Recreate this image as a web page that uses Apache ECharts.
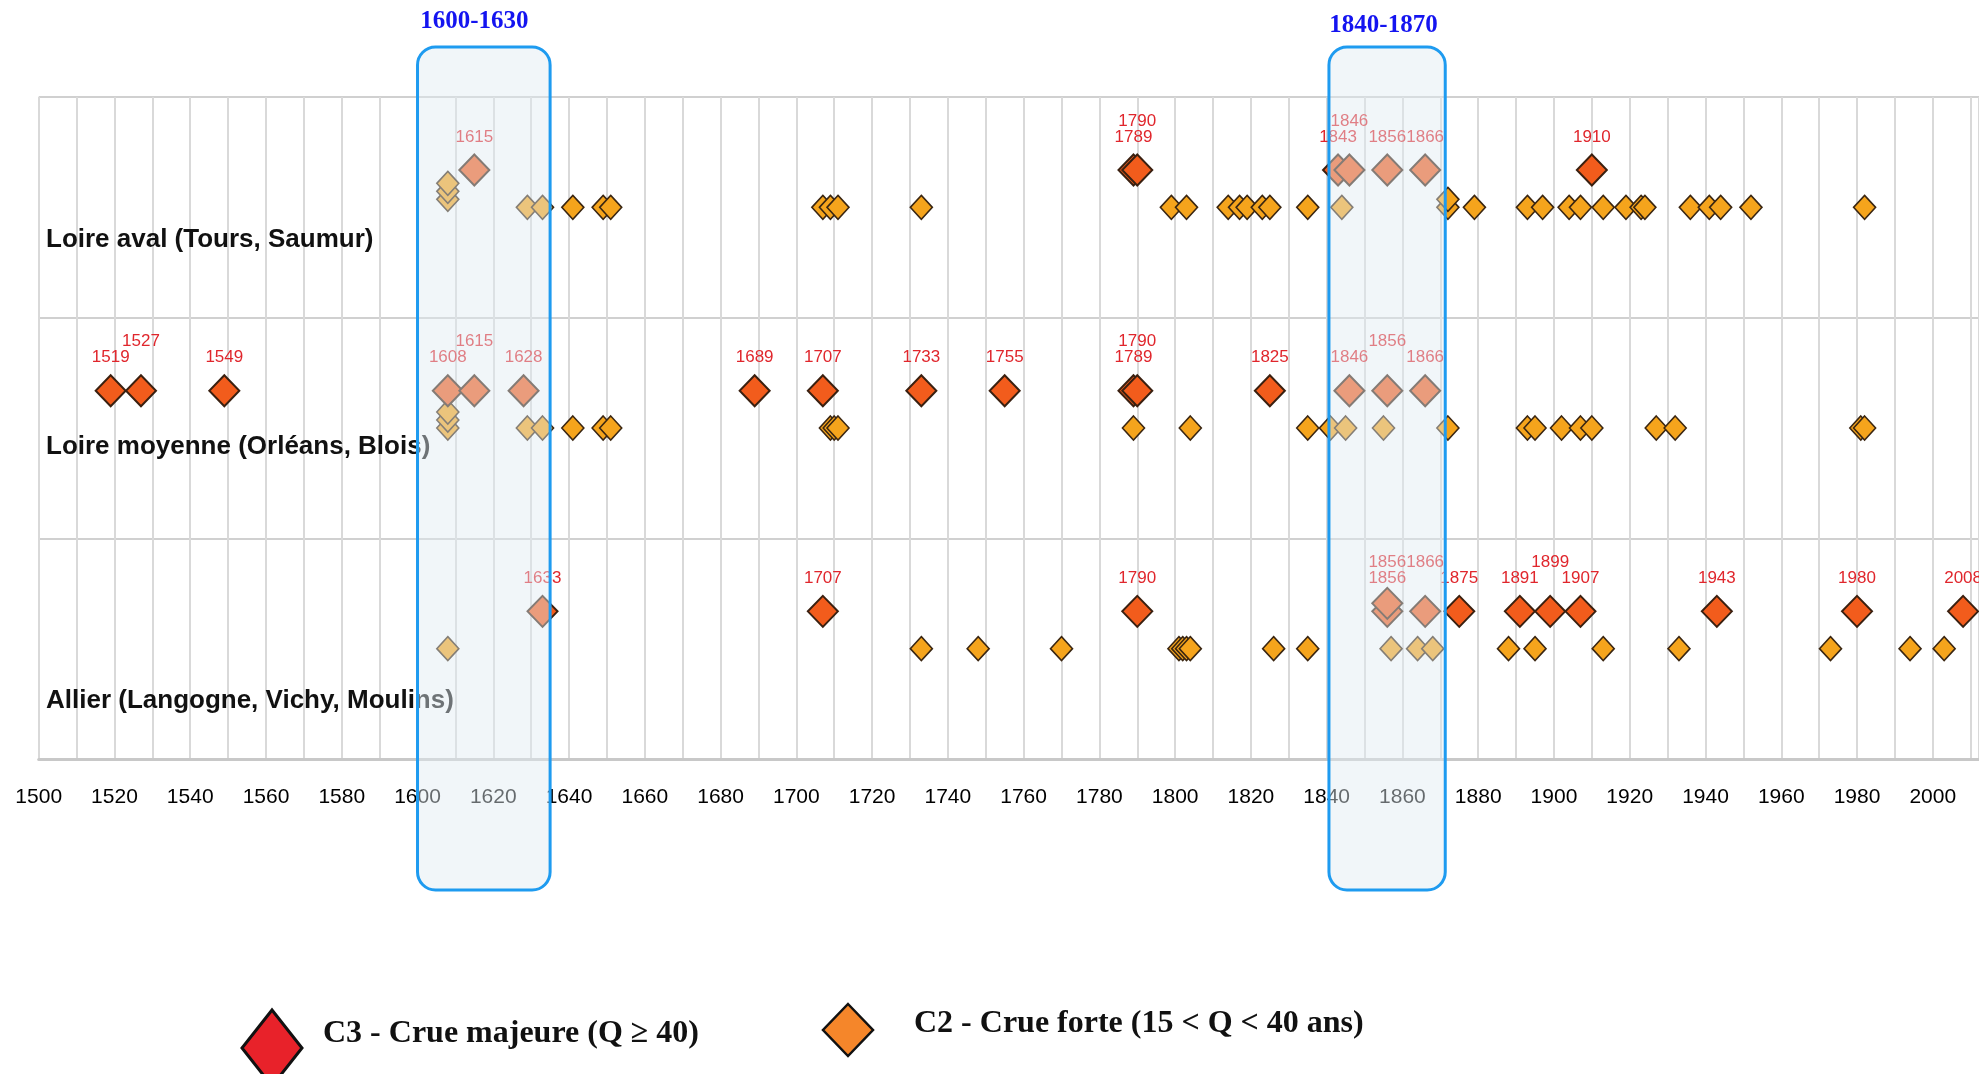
<!DOCTYPE html>
<html><head><meta charset="utf-8">
<script src="https://cdn.jsdelivr.net/npm/echarts@6/dist/echarts.min.js"></script>
<style>html,body{margin:0;padding:0;background:#fff;overflow:hidden}#c{width:1979px;height:1074px}</style>
</head><body><div id="c"></div>
<script>
// ---- data ----
const rowNames = ['Loire aval (Tours, Saumur)', 'Loire moyenne (Orléans, Blois)', 'Allier (Langogne, Vichy, Moulins)'];
const avalC3 = [1615, 1789, 1790, 1843, 1846, 1856, 1866, 1910];
const avalC2 = [1608, 1608, 1608, 1629, 1633, 1641, 1649, 1651, 1707, 1709, 1711, 1733, 1799, 1803, 1814, 1817, 1819, 1823, 1825, 1835, 1844, 1872, 1872, 1879, 1893, 1897, 1904, 1907, 1913, 1919, 1923, 1924, 1936, 1941, 1944, 1952, 1982];
const moyC3 = [1519, 1527, 1549, 1608, 1615, 1628, 1689, 1707, 1733, 1755, 1789, 1790, 1825, 1846, 1856, 1866];
const moyC2 = [1608, 1608, 1608, 1629, 1633, 1641, 1649, 1651, 1709, 1710, 1711, 1789, 1804, 1835, 1841, 1845, 1855, 1872, 1893, 1895, 1902, 1907, 1910, 1927, 1932, 1981, 1982];
const allierC3 = [1633, 1707, 1790, 1856, 1856, 1866, 1875, 1891, 1899, 1907, 1943, 1980, 2008];
const allierC2 = [1608, 1733, 1748, 1770, 1801, 1802, 1803, 1804, 1826, 1835, 1857, 1864, 1868, 1888, 1895, 1913, 1933, 1973, 1994, 2003];
const avalRaised = [1790, 1846];
const moyRaised = [1527, 1615, 1790, 1856];
const allierRaised = [1856, 1866, 1899];
const periodNames = ['1600-1630', '1840-1870'];
const periodCenters = [1615, 1855];
const periodFrom = [1600, 1840.6];
const periodTo = [1635, 1871.3];
const legendNames = ['C3 - Crue majeure (Q \u2265 40)', 'C2 - Crue forte (15 < Q < 40 ans)'];
const xMin = 1500, xMax = 2012.2;

// ---- layout constants ----
const GRID_TOP = 97, GRID_BOTTOM = 315, GRID_LEFT = 38.7;
const BAND_PX = (1074 - GRID_TOP - GRID_BOTTOM) / 3;
const STACK = 8 / BAND_PX;

function buildC3(years, band, raised) {
  const seen = {};
  return years.map((y, i) => {
    const lvl = seen[y] || 0; seen[y] = lvl + 1;
    const up = raised.includes(y) && years.lastIndexOf(y) === i ? 1 : 0;
    return {
      value: [y, 3 - band - 0.331 + lvl * STACK], year: y,
      label: { offset: [0, -33 - 16 * up + lvl * 8] }
    };
  });
}
function buildC2(years, band, extra) {
  const seen = {};
  return years.map(y => {
    const lvl = seen[y] || 0; seen[y] = lvl + 1;
    return { value: [y, 3 - band - 0.5 + (lvl + (extra[y] || 0)) * STACK], year: y };
  });
}
const c3Data = [].concat(buildC3(avalC3, 0, avalRaised), buildC3(moyC3, 1, moyRaised), buildC3(allierC3, 2, allierRaised));
const c2Data = [].concat(buildC2(avalC2, 0, {1608: 1}), buildC2(moyC2, 1, {}), buildC2(allierC2, 2, {}));

const chart = echarts.init(document.getElementById('c'));
chart.setOption({
  animation: false,
  backgroundColor: '#fff',
  grid: { left: GRID_LEFT, right: 0, top: GRID_TOP, bottom: GRID_BOTTOM },
  xAxis: {
    type: 'value', min: xMin, max: xMax, interval: 10,
    axisLine: { show: true, lineStyle: { color: '#c8c8c8', width: 3 } },
    axisTick: { show: false },
    axisLabel: {
      margin: 28, fontSize: 21, color: '#000', fontFamily: 'Liberation Sans',
      showMaxLabel: false,
      formatter: v => (v % 20 === 0 ? String(v) : '')
    },
    splitLine: { show: true, lineStyle: { color: '#d9d9d9', width: 2 } }
  },
  yAxis: {
    type: 'value', min: 0, max: 3, interval: 1,
    axisLine: { show: false }, axisTick: { show: false }, axisLabel: { show: false },
    splitLine: { show: true, lineStyle: { color: '#d0d0d0', width: 2 } }
  },
  series: [
    {
      name: 'C2', type: 'scatter', symbol: 'diamond', symbolSize: [22, 24], z: 2,
      itemStyle: { color: '#f5a41c', borderColor: '#3a2612', borderWidth: 1.6, opacity: 1 },
      data: c2Data
    },
    {
      name: 'C3', type: 'scatter', symbol: 'diamond', symbolSize: [30, 31], z: 3,
      itemStyle: { color: '#f25c1c', borderColor: '#3a2010', borderWidth: 2, opacity: 1 },
      label: {
        show: true, position: 'inside', color: '#e0262c', fontSize: 17,
        fontFamily: 'Liberation Sans', formatter: p => String(p.data.year)
      },
      data: c3Data
    }
  ]
});

const px = v => chart.convertToPixel({ xAxisIndex: 0 }, v);
const rowLabelY = [240, 447, 701];
const graphics = [];
rowNames.forEach((n, i) => graphics.push({
  type: 'text', z: 1, x: 46, y: rowLabelY[i],
  style: { text: n, font: 'bold 26px "Liberation Sans"', fill: '#111', verticalAlign: 'middle' }
}));
periodNames.forEach((n, i) => {
  const x0 = px(periodFrom[i]), x1 = px(periodTo[i]);
  graphics.push({
    type: 'rect', z: 100,
    shape: { x: x0, y: 47, width: x1 - x0, height: 843, r: 18 },
    style: { fill: 'rgba(225,234,241,0.45)', stroke: '#1e9bf0', lineWidth: 3 }
  });
  graphics.push({
    type: 'text', z: 100, x: px(periodCenters[i]), y: i === 0 ? 22 : 26,
    style: { text: n, font: 'bold 25px "Liberation Serif"', fill: '#1414f0', align: 'center', verticalAlign: 'middle' }
  });
});
// legend
graphics.push({
  type: 'polygon', z: 100,
  shape: { points: [[272, 1010], [302, 1048], [272, 1086], [242, 1048]] },
  style: { fill: '#e8222a', stroke: '#111', lineWidth: 3 }
});
graphics.push({
  type: 'text', z: 100, x: 323, y: 1034,
  style: { text: legendNames[0], font: 'bold 32px "Liberation Serif"', fill: '#111', verticalAlign: 'middle' }
});
graphics.push({
  type: 'polygon', z: 100,
  shape: { points: [[848, 1004], [873, 1030], [848, 1056], [823, 1030]] },
  style: { fill: '#f5862a', stroke: '#111', lineWidth: 2.5 }
});
graphics.push({
  type: 'text', z: 100, x: 914, y: 1024,
  style: { text: legendNames[1], font: 'bold 32px "Liberation Serif"', fill: '#111', verticalAlign: 'middle' }
});
chart.setOption({ graphic: graphics });
</script>
</body></html>
